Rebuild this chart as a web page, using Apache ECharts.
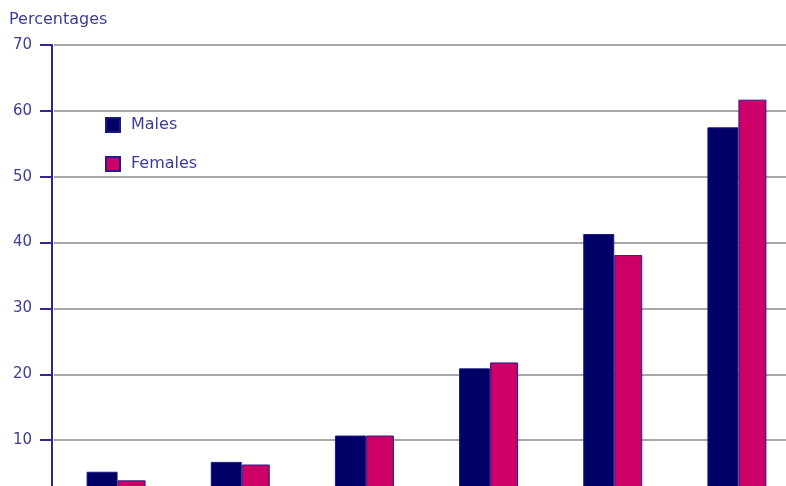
<!DOCTYPE html>
<html><head><meta charset="utf-8">
<script src="https://cdn.jsdelivr.net/npm/echarts@6/dist/echarts.min.js"></script>
<style>html,body{margin:0;padding:0;background:#fff;overflow:hidden;width:786px;height:486px}#c{width:800px;height:506px}</style>
</head><body><div id="c"></div>
<script>
const categories = ['G1','G2','G3','G4','G5','G6'];
const males = [5.2, 6.7, 10.7, 20.9, 41.3, 57.5];
const females = [3.9, 6.3, 10.7, 21.8, 38.1, 61.7];
const yTicks = [10, 20, 30, 40, 50, 60, 70];

const txt = '#3c3c9a';
const font = 'DejaVu Sans';
const chart = echarts.init(document.getElementById('c'));
chart.setOption({
  animation: false,
  title: { text: 'Percentages', left: 9, top: 12, padding: 0, textStyle: { fontFamily: font, fontSize: 16, fontWeight: 'normal', color: txt } },
  legend: {
    orient: 'vertical', left: 105, top: 117, padding: 0, itemWidth: 14, itemHeight: 14, itemGap: 23,
    icon: 'rect', textStyle: { fontFamily: font, fontSize: 16, color: txt, padding: [2,0,0,6] },
    data: ['Males', 'Females']
  },
  grid: { left: 54, top: 45, right: 1, bottom: 0, containLabel: false },
  xAxis: { type: 'category', data: categories, axisLine: { show: false }, axisTick: { show: false }, axisLabel: { show: false } },
  yAxis: {
    type: 'value', min: 0, max: 70, interval: 10, offset: 2,
    axisLine: { show: true, lineStyle: { color: '#2a2a90', width: 2 } },
    axisTick: { show: true, length: 12, lineStyle: { color: '#2a2a90', width: 2 } },
    axisLabel: { fontFamily: font, fontSize: 15, color: txt, margin: 20,
      formatter: v => yTicks.indexOf(v) >= 0 ? String(v) : '' },
    splitLine: { show: true, lineStyle: { color: '#a8a8a8', width: 2 } }
  },
  series: [
    { name: 'Males', type: 'bar', data: males, barWidth: 31, barGap: '0%',
      itemStyle: { color: '#000066', borderColor: '#1a1a80', borderWidth: 1 } },
    { name: 'Females', type: 'bar', data: females, barWidth: 28,
      itemStyle: { color: '#cc0066', borderColor: '#2a1a8a', borderWidth: 1 } }
  ]
});
</script></body></html>
